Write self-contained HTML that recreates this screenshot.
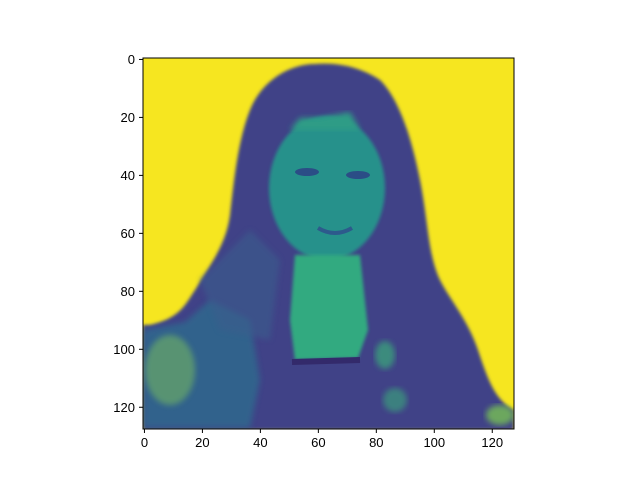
<!DOCTYPE html>
<html><head><meta charset="utf-8"><style>
body{margin:0;background:#fff;}
svg{display:block;font-family:"Liberation Sans",sans-serif;}
</style></head><body>
<svg width="640" height="480" viewBox="0 0 640 480">
<defs>
<clipPath id="c"><rect x="143" y="58" width="371" height="371"/></clipPath>
<filter id="b"><feGaussianBlur stdDeviation="3"/></filter>
<filter id="b2"><feGaussianBlur stdDeviation="1.5"/></filter>
</defs>
<g clip-path="url(#c)">
<rect x="143" y="58" width="371" height="371" fill="#f6e620"/>
<path filter="url(#b2)" fill="#414287" d="M315,64 C290,64 262,80 250,110 C238,140 234,180 230,215 C226,245 210,265 195,290 C185,305 180,318 150,325 L143,325 L143,430 L514,430 L514,410 C495,400 488,380 478,350 C468,320 450,300 440,280 C428,255 428,220 420,180 C412,140 400,100 380,80 C362,68 340,62 315,64 Z"/>
<path filter="url(#b)" fill="#2f6b8e" opacity="0.8" d="M143,330 L185,322 L210,300 L250,320 L260,380 L250,428 L143,428 Z"/>
<path filter="url(#b)" fill="#3a5d8d" opacity="0.6" d="M200,280 L250,230 L280,260 L270,340 L220,330 Z"/>
<ellipse filter="url(#b2)" cx="327" cy="188" rx="58" ry="72" fill="#27918b"/>
<path filter="url(#b2)" fill="#33aa80" d="M295,255 L360,255 L368,330 L358,358 L295,360 L290,320 Z"/>
<path filter="url(#b)" fill="#2e9c86" d="M290,130 L360,130 L350,112 L320,118 L300,118 Z"/>
<ellipse cx="307" cy="172" rx="12" ry="4" fill="#2b4d86"/>
<ellipse cx="358" cy="175" rx="12" ry="4" fill="#2b4d86"/>
<path d="M318,228 Q335,238 352,228" stroke="#2d5a8c" stroke-width="4" fill="none"/>
<path d="M292,362 L360,360" stroke="#332a6b" stroke-width="6"/>
<ellipse filter="url(#b)" cx="385" cy="355" rx="10" ry="14" fill="#3aaa7a" opacity="0.7"/>
<ellipse filter="url(#b)" cx="395" cy="400" rx="12" ry="12" fill="#3aaa7a" opacity="0.6"/>
<ellipse filter="url(#b)" cx="170" cy="370" rx="25" ry="35" fill="#7fc55a" opacity="0.5"/>
<ellipse filter="url(#b)" cx="500" cy="415" rx="14" ry="10" fill="#7fd34e" opacity="0.7"/>
</g>
<rect x="143" y="58" width="371" height="371" fill="none" stroke="#000" stroke-width="1"/>
<g id="ticks" font-size="13" fill="#000"></g>
<script>
const xTicks=[0,20,40,60,80,100,120];
const yTicks=[0,20,40,60,80,100,120];
const g=document.getElementById('ticks');
const sc=v=>(v+0.5)*371/128;
const ns='http://www.w3.org/2000/svg';
xTicks.forEach(t=>{const x=143+sc(t);
const l=document.createElementNS(ns,'line');l.setAttribute('x1',x);l.setAttribute('x2',x);l.setAttribute('y1',429);l.setAttribute('y2',433);l.setAttribute('stroke','#000');


g.appendChild(l);
const s=document.createElementNS(ns,'text');s.setAttribute('x',x);s.setAttribute('y',447);s.setAttribute('text-anchor','middle');s.textContent=t;


g.appendChild(s);});
yTicks.forEach(t=>{const y=58+sc(t);
const l=document.createElementNS(ns,'line');l.setAttribute('x1',139);l.setAttribute('x2',143);l.setAttribute('y1',y);l.setAttribute('y2',y);l.setAttribute('stroke','#000');


g.appendChild(l);
const s=document.createElementNS(ns,'text');s.setAttribute('x',135);s.setAttribute('y',y+4.5);s.setAttribute('text-anchor','end');s.textContent=t;


g.appendChild(s);});
</script>
</svg>
</body></html>
